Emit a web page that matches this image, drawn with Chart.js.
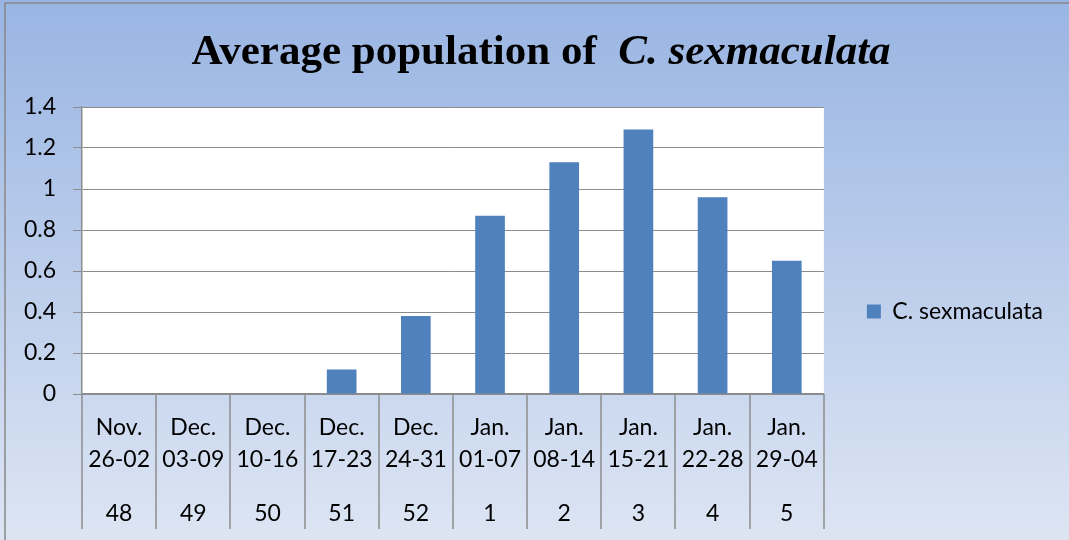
<!DOCTYPE html>
<html>
<head>
<meta charset="utf-8">
<script src="https://cdn.jsdelivr.net/npm/chart.js@4.4.1/dist/chart.umd.min.js"></script>
<style>
html,body{margin:0;padding:0;background:#fff;}
#wrap{width:1069px;height:540px;}
</style>
</head>
<body>
<div id="wrap"><canvas id="c" width="1069" height="540"></canvas></div>
<script>
const titleRoman = "Average population of  ";
const titleItalic = "C. sexmaculata";
const seriesName = "C. sexmaculata";
const categories = [
  ["Nov.", "26-02"], ["Dec.", "03-09"], ["Dec.", "10-16"], ["Dec.", "17-23"], ["Dec.", "24-31"],
  ["Jan.", "01-07"], ["Jan.", "08-14"], ["Jan.", "15-21"], ["Jan.", "22-28"], ["Jan.", "29-04"]
];
const weeks = ["48", "49", "50", "51", "52", "1", "2", "3", "4", "5"];
const values = [0, 0, 0, 0.12, 0.38, 0.87, 1.13, 1.29, 0.96, 0.65];

const FONT = "Lato";
const FS = 23;

const bgPlugin = {
  id: 'bg',
  afterLayout(chart) {
    if (chart.legend) { chart.legend.top -= 24; }
  },
  beforeDraw(chart) {
    const ctx = chart.ctx, W = chart.width, H = chart.height;
    ctx.save();
    const g = ctx.createLinearGradient(0, 0, 0, H);
    g.addColorStop(0, '#99b5e3');
    g.addColorStop(1, '#dde5f3');
    ctx.fillStyle = g;
    ctx.fillRect(0, 0, W, H);
    const a = chart.chartArea;
    ctx.fillStyle = '#ffffff';
    ctx.fillRect(a.left, a.top, a.right - a.left, a.bottom - a.top);
    ctx.strokeStyle = '#888888';
    ctx.lineWidth = 1.5;
    ctx.strokeRect(5, 3, W + 10, H + 10);
    ctx.restore();
  },
  afterDraw(chart) {
    const ctx = chart.ctx;
    const a = chart.chartArea;
    const xs = chart.scales.x;
    ctx.save();
    // title
    ctx.fillStyle = '#000';
    ctx.textBaseline = 'alphabetic';
    ctx.font = 'bold 43px "Liberation Serif"';
    const w1 = ctx.measureText(titleRoman).width;
    ctx.font = 'italic bold 43px "Liberation Serif"';
    const w2 = ctx.measureText(titleItalic).width;
    const x0 = 541 - (w1 + w2) / 2;
    ctx.font = 'bold 43px "Liberation Serif"';
    ctx.fillText(titleRoman, x0, 64);
    ctx.font = 'italic bold 43px "Liberation Serif"';
    ctx.fillText(titleItalic, x0 + w1, 64);
    // category separators
    ctx.strokeStyle = '#8c8c8c';
    ctx.lineWidth = 1.5;
    for (let i = 0; i <= categories.length; i++) {
      const x = Math.round(xs.getPixelForValue(i - 0.5));
      ctx.beginPath();
      ctx.moveTo(x, a.bottom);
      ctx.lineTo(x, 529);
      ctx.stroke();
    }
    ctx.restore();
  }
};

new Chart(document.getElementById('c'), {
  type: 'bar',
  data: {
    labels: categories,
    datasets: [{
      label: seriesName,
      data: values,
      backgroundColor: '#4f81bd',
      borderWidth: 0,
      barPercentage: 0.4,
      categoryPercentage: 1.0,
      xAxisID: 'x',
      yAxisID: 'y'
    }]
  },
  options: {
    responsive: false,
    animation: false,
    layout: { padding: { top: 107, left: 0, right: 16, bottom: 0 } },
    plugins: {
      title: { display: false },
      tooltip: { enabled: false },
      legend: {
        position: 'right',
        labels: {
          boxWidth: 14, boxHeight: 14, padding: 43,
          color: '#000',
          font: { family: FONT, size: FS }
        }
      }
    },
    scales: {
      x: {
        type: 'category',
        position: 'bottom',
        weight: 0,
        grid: { display: false, drawTicks: false },
        border: { display: true, color: '#8c8c8c', width: 1.5 },
        ticks: {
          color: '#000', padding: 18, maxRotation: 0, autoSkip: false,
          font: { family: FONT, size: FS, lineHeight: '32px' }
        },
        afterFit(s) { s.height = 90; }
      },
      x2: {
        type: 'category',
        position: 'bottom',
        weight: 1,
        labels: weeks,
        grid: { display: false, drawTicks: false },
        border: { display: false },
        ticks: {
          color: '#000', padding: 14, maxRotation: 0, autoSkip: false,
          font: { family: FONT, size: FS, lineHeight: '32px' }
        },
        afterFit(s) { s.height = 56; }
      },
      y: {
        min: 0, max: 1.4,
        grid: { color: '#8c8c8c', lineWidth: 1, tickLength: 9 },
        border: { display: true, color: '#8c8c8c', width: 1.5 },
        ticks: {
          stepSize: 0.2, padding: 17, color: '#000',
          font: { family: FONT, size: FS },
          callback: v => String(+(+v).toFixed(1))
        },
        afterFit(s) { s.width = 82; }
      }
    }
  },
  plugins: [bgPlugin]
});
</script>
</body>
</html>
